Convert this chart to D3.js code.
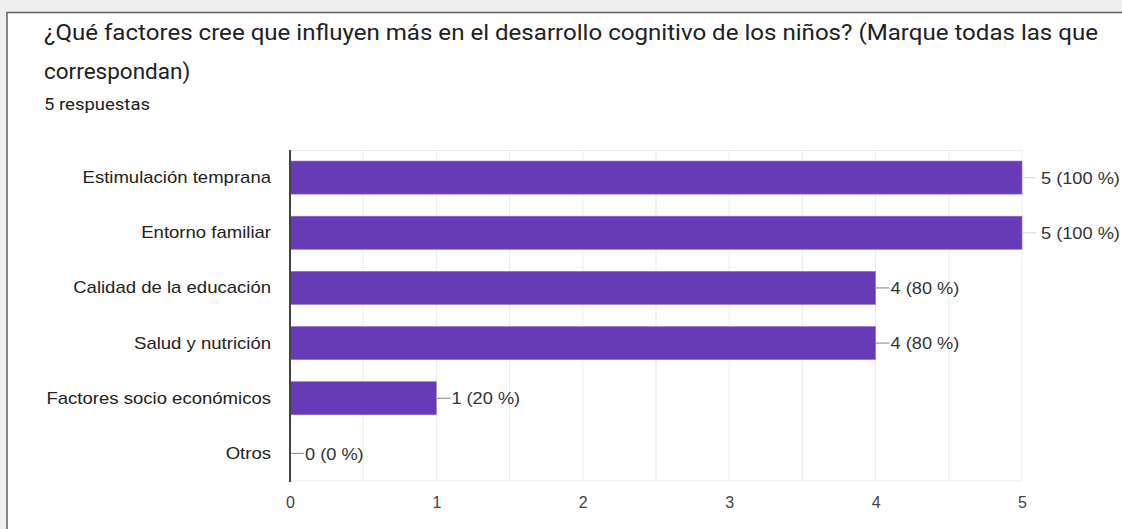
<!DOCTYPE html>
<html><head><meta charset="utf-8">
<script src="https://cdn.jsdelivr.net/npm/d3@7"></script>
<style>
html,body{margin:0;padding:0;background:#f0f0f0;}
svg{display:block;font-family:Roboto,"Noto Sans",Arial,sans-serif;}
</style></head>
<body>
<svg id="chart" width="1122" height="529"></svg>
<script>
const titleLines = ["¿Qué factores cree que influyen más en el desarrollo cognitivo de los niños? (Marque todas las que", "correspondan)"];
const subtitle = "5 respuestas";
const categories = ["Estimulación temprana", "Entorno familiar", "Calidad de la educación", "Salud y nutrición", "Factores socio económicos", "Otros"];
const counts = [5, 5, 4, 4, 1, 0];
const percents = [100, 100, 80, 80, 20, 0];
const xTicks = [0, 1, 2, 3, 4, 5];

const chartFont = "'Liberation Sans',Arial,sans-serif";
const stretch = 1.09;
function widen(sel, k) {
  sel.each(function () {
    const w = this.getComputedTextLength();
    d3.select(this).attr("textLength", w * k).attr("lengthAdjust", "spacingAndGlyphs");
  });
}
const svg = d3.select("#chart");
// card
svg.append("rect").attr("x", 0).attr("y", 0).attr("width", 1122).attr("height", 529).attr("fill", "#efefef");
svg.append("rect").attr("x", 7).attr("y", 12.5).attr("width", 1130).attr("height", 540)
  .attr("fill", "#fff").attr("stroke", "#5f5f5f").attr("stroke-width", 1.5);

svg.selectAll("text.title").data(titleLines).join("text").attr("class", "title")
  .attr("x", 44).attr("y", (d, i) => 40 + i * 39)
  .attr("font-size", 22.5).attr("fill", "#202124").text(d => d)
  .each(function (d, i) { if (i === 0) d3.select(this).attr("textLength", 1054).attr("lengthAdjust", "spacingAndGlyphs"); });
svg.append("text").attr("x", 44).attr("y", 110).attr("font-size", 16.5).attr("fill", "#202124").text(subtitle)
  .attr("textLength", 106).attr("lengthAdjust", "spacingAndGlyphs");

const x = d3.scaleLinear().domain([0, 5]).range([290, 1022]);
const y = d3.scaleBand().domain(categories).range([150, 481]).paddingInner(0.4).paddingOuter(0.2);

// gridlines (minor at halves)
const gridVals = d3.range(0.5, 5.01, 0.5);
svg.append("g").selectAll("line").data(gridVals).join("line")
  .attr("x1", d => x(d)).attr("x2", d => x(d)).attr("y1", 150).attr("y2", 481)
  .attr("stroke", "#ebebeb").attr("stroke-width", 1);
svg.append("line").attr("x1", 290).attr("x2", 1022).attr("y1", 150.5).attr("y2", 150.5).attr("stroke", "#ebebeb");
svg.append("line").attr("x1", 290).attr("x2", 1022).attr("y1", 481).attr("y2", 481).attr("stroke", "#ebebeb");

// bars
svg.append("g").selectAll("rect").data(categories).join("rect")
  .attr("x", x(0)).attr("y", d => y(d))
  .attr("width", (d, i) => x(counts[i]) - x(0)).attr("height", y.bandwidth())
  .attr("fill", "#673ab7").attr("stroke", "#9575cd").attr("stroke-width", 0.6);

// leader lines and labels
svg.append("g").selectAll("line").data(categories).join("line")
  .attr("x1", (d, i) => x(counts[i])).attr("x2", (d, i) => x(counts[i]) + 14)
  .attr("y1", d => y(d) + y.bandwidth() / 2).attr("y2", d => y(d) + y.bandwidth() / 2)
  .attr("stroke", (d, i) => counts[i] === 5 ? "#dddddd" : "#999").attr("stroke-width", 1.2);
svg.append("g").selectAll("text").data(categories).join("text")
  .attr("x", (d, i) => x(counts[i]) + (counts[i] === 5 ? 19 : 15))
  .attr("y", d => y(d) + y.bandwidth() / 2).attr("dy", "0.36em")
  .attr("font-size", 17).attr("fill", "#333").attr("font-family", chartFont)
  .text((d, i) => `${counts[i]} (${percents[i]} %)`)
  .call(widen, 1.07);

// y axis line
svg.append("line").attr("x1", 290).attr("x2", 290).attr("y1", 150).attr("y2", 482)
  .attr("stroke", "#444").attr("stroke-width", 2);

// category labels
const yAxis = d3.axisLeft(y).tickSize(0).tickPadding(19);
const ga = svg.append("g").attr("transform", "translate(290,0)").call(yAxis);
ga.select(".domain").remove();
ga.selectAll("text").attr("font-size", 17).attr("fill", "#222").attr("font-family", chartFont).call(widen, stretch);

// x axis
const xAxis = d3.axisBottom(x).tickValues(xTicks).tickSize(0).tickPadding(16).tickFormat(d3.format("d"));
const gx = svg.append("g").attr("transform", "translate(0,481)").call(xAxis);
gx.select(".domain").remove();
gx.selectAll("text").attr("font-size", 16).attr("fill", "#444").attr("font-family", chartFont);
</script>
</body></html>
